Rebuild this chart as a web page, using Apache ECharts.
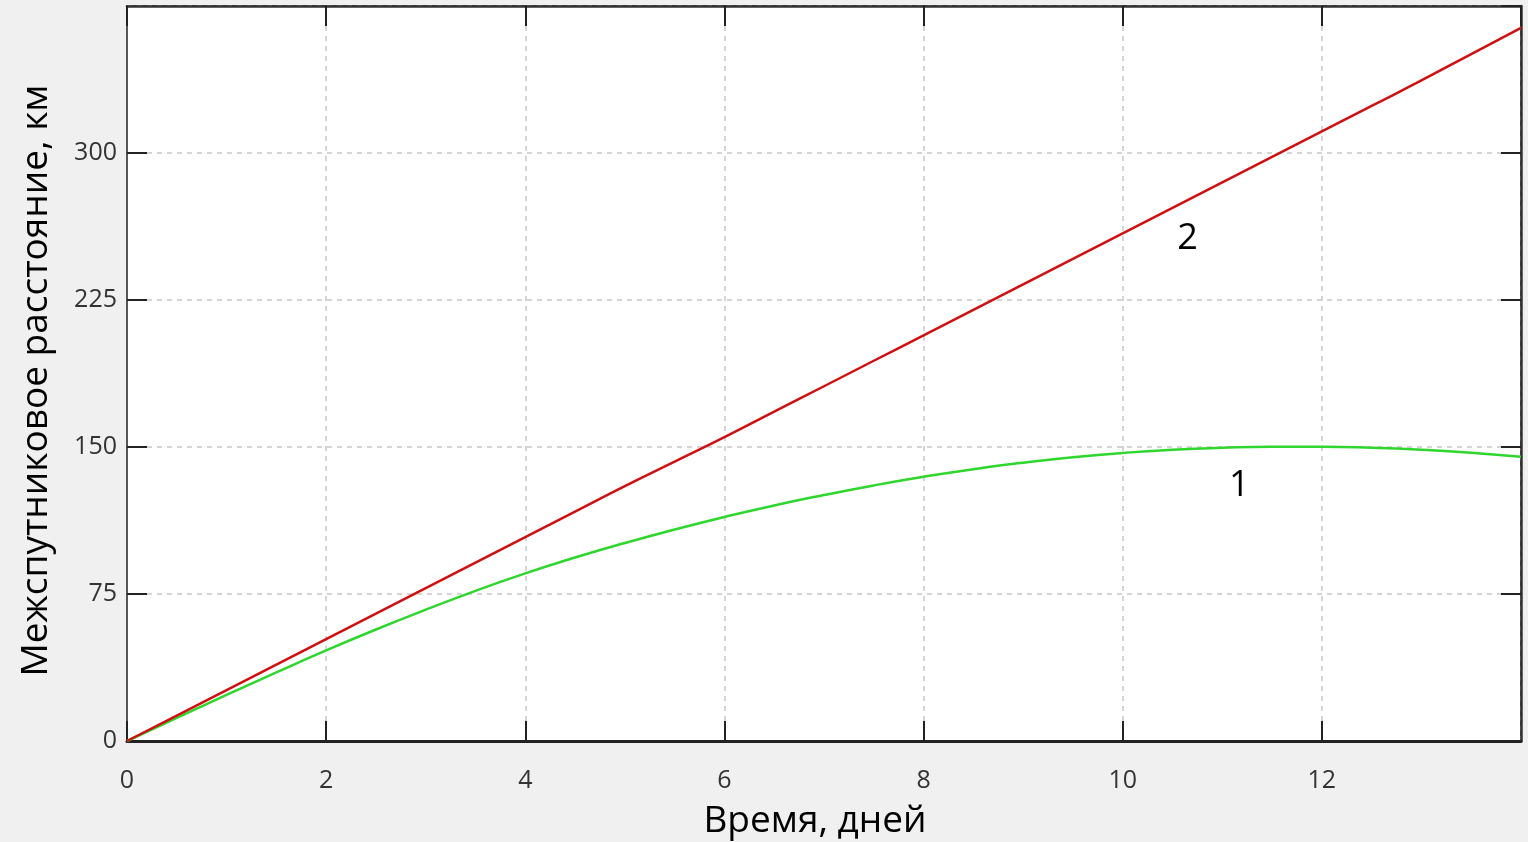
<!DOCTYPE html>
<html>
<head>
<meta charset="utf-8">
<script src="https://cdn.jsdelivr.net/npm/echarts@6/dist/echarts.min.js"></script>
<style>
  html, body { margin: 0; padding: 0; background: #f0f0f0; }
  #chart { width: 1528px; height: 842px; }
</style>
</head>
<body>
<div id="chart"></div>
<script>
// время, дней
const days = [0, 0.5, 1, 1.5, 2, 2.5, 3, 3.5, 4, 4.5, 5, 5.5, 6, 6.5, 7, 7.5,
  8, 8.5, 9, 9.5, 10, 10.5, 11, 11.5, 12, 12.5, 13, 13.5, 14];
// кривая 1 (зелёная)
const curve1 = [0, 11.8, 23.5, 35, 46.2, 56.9, 67, 76.6, 85.5, 93.6, 101, 107.9, 114.3, 120.2, 125.5, 130.4,
  134.8, 138.7, 142, 144.8, 147, 148.6, 149.6, 150.1, 150.1, 149.6, 148.6, 147.1, 145];
// кривая 2 (красная)
const curve2 = [0, 13, 26, 39, 52, 65, 78, 91, 104, 117, 130, 142.5, 155, 168, 181, 194,
  207, 220, 233, 246, 259, 272, 285, 298, 311, 324, 337, 350.5, 363.8];
// подписи кривых: [день, км, текст]
const curveLabels = [[11.17, 130, '1'], [10.65, 256, '2']];

const xTicks = { min: 0, max: 14, interval: 2 };
const yTicks = { min: 0, max: 375, interval: 75 };

const font = '"Open Sans", "Noto Sans", sans-serif';
const chart = echarts.init(document.getElementById('chart'));

const pair = (xs, ys) => xs.map((x, i) => [x, ys[i]]);

const tickStyle = { show: true, inside: true, length: 20, lineStyle: { color: '#222', width: 2 } };
const gridDash = { show: true, lineStyle: { color: '#c8c8c8', type: [5, 5], width: 1.5 } };
const mirrorLine = { show: true, onZero: false, lineStyle: { color: '#333', width: 2.5 } };

const curveLabel = (item) => ({
  symbolSize: 0,
  label: { show: true, fontSize: 36, color: '#000', fontFamily: font, formatter: (p) => p.name },
  data: [{ name: item[2], coord: [item[0], item[1]] }]
});

chart.setOption({
  backgroundColor: '#f0f0f0',
  animation: false,
  grid: {
    left: 127, right: 7, top: 6, bottom: 101,
    outerBoundsMode: 'none', containLabel: false,
    show: true, backgroundColor: '#fff', borderColor: '#444', borderWidth: 2
  },
  xAxis: [
    {
      type: 'value', ...xTicks,
      name: 'Время, дней', nameLocation: 'middle', nameGap: 62,
      nameTextStyle: { fontSize: 37, color: '#000', fontFamily: font, padding: [0, 18, 0, 0] },
      axisLine: { show: true, onZero: false, lineStyle: { color: '#222', width: 3 } },
      axisTick: tickStyle,
      axisLabel: { fontSize: 25, color: '#333', fontFamily: font, margin: 27, showMaxLabel: false },
      splitLine: gridDash
    },
    {
      type: 'value', ...xTicks, position: 'top',
      axisLine: mirrorLine,
      axisTick: tickStyle, axisLabel: { show: false }, splitLine: { show: false }
    }
  ],
  yAxis: [
    {
      type: 'value', ...yTicks,
      name: 'Межспутниковое расстояние, км', nameLocation: 'middle', nameGap: 72,
      nameTextStyle: { fontSize: 37, color: '#000', fontFamily: font, padding: [0, 14, 0, 0] },
      axisLine: { show: true, onZero: false, lineStyle: { color: '#555', width: 2 } },
      axisTick: tickStyle,
      axisLabel: { fontSize: 25, color: '#333', fontFamily: font, margin: 10, showMaxLabel: false },
      splitLine: gridDash
    },
    {
      type: 'value', ...yTicks, position: 'right',
      axisLine: mirrorLine,
      axisTick: tickStyle, axisLabel: { show: false }, splitLine: { show: false }
    }
  ],
  series: [
    {
      name: '1', type: 'line', data: pair(days, curve1), smooth: true, showSymbol: false,
      lineStyle: { color: '#2ed62e', width: 2.5 },
      markPoint: curveLabel(curveLabels[0])
    },
    {
      name: '2', type: 'line', data: pair(days, curve2), smooth: true, showSymbol: false,
      lineStyle: { color: '#d01010', width: 2.5 },
      markPoint: curveLabel(curveLabels[1])
    }
  ]
});
</script>
</body>
</html>
